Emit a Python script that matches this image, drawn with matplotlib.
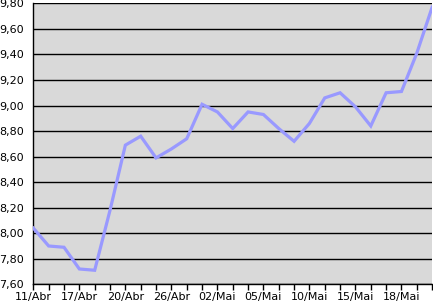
import numpy as np
import matplotlib.pyplot as plt
from matplotlib.ticker import FuncFormatter

# trading days (only every third one is labelled on the axis)
dates = ['11/Abr', '12/Abr', '13/Abr', '17/Abr', '18/Abr', '19/Abr', '20/Abr',
         '24/Abr', '25/Abr', '26/Abr', '27/Abr', '28/Abr', '02/Mai', '03/Mai',
         '04/Mai', '05/Mai', '08/Mai', '09/Mai', '10/Mai', '11/Mai', '12/Mai',
         '15/Mai', '16/Mai', '17/Mai', '18/Mai', '19/Mai', '22/Mai']
prices = [8.04, 7.90, 7.89, 7.72, 7.71, 8.18, 8.69, 8.76, 8.59, 8.66,
          8.74, 9.01, 8.95, 8.82, 8.95, 8.93, 8.82, 8.72, 8.86, 9.06,
          9.10, 8.99, 8.84, 9.10, 9.11, 9.41, 9.77]
y_ticks = np.arange(7.6, 9.81, 0.2)

fig = plt.figure(figsize=(4.33, 3.04), dpi=100)
ax = fig.add_axes([0.077, 0.0648, 0.921, 0.924])
ax.set_facecolor('#d9d9d9')

x = np.arange(len(dates))
ax.plot(x, prices, color='#9999ff', linewidth=2.3, solid_joinstyle='miter', zorder=3)

ax.set_xlim(0, len(dates) - 1)
ax.set_ylim(7.6, 9.8)
ax.set_yticks(y_ticks)
ax.yaxis.set_major_formatter(FuncFormatter(lambda v, p: f'{v:.2f}'.replace('.', ',')))
ax.set_xticks(x)
ax.set_xticklabels([d if i % 3 == 0 else '' for i, d in enumerate(dates)])

ax.grid(True, axis='y', color='black', linewidth=1)
ax.set_axisbelow(True)
for s in ['top', 'right']:
    ax.spines[s].set_visible(False)
for s in ['left', 'bottom']:
    ax.spines[s].set_color('black')
    ax.spines[s].set_linewidth(1)

ax.tick_params(axis='x', direction='out', length=4, width=1, pad=1.5, labelsize=8)
ax.tick_params(axis='y', length=0, pad=7, labelsize=8)

fig.savefig('out.png', dpi=100)
